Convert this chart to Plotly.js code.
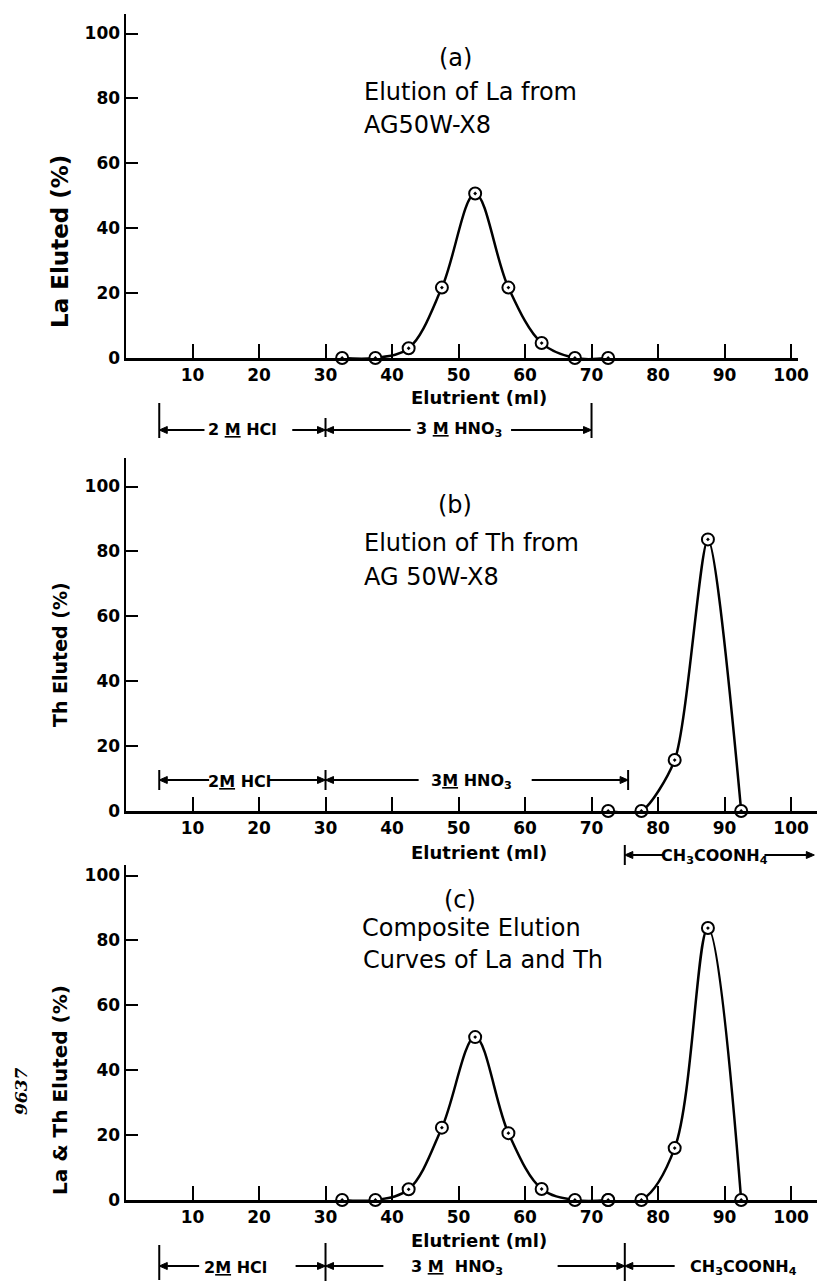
<!DOCTYPE html>
<html><head><meta charset="utf-8">
<script src="https://cdn.plot.ly/plotly-3.0.1.min.js"></script>
<style>html,body{margin:0;padding:0;background:#fff}#chart{width:817px;height:1281px}</style>
</head><body><div id="chart"></div>
<script>
// ---- data ----
const laVolume = [32.5, 37.5, 42.5, 47.5, 52.5, 57.5, 62.5, 67.5, 72.5];
const laElutedA = [0, 0, 3.0, 21.7, 50.7, 21.7, 4.6, 0, 0];
const thVolume = [72.5, 77.5, 82.5, 87.5, 92.5];
const thElutedB = [0, 0, 15.7, 83.7, 0];
const laElutedC = [0, 0, 3.3, 22.3, 50.2, 20.6, 3.4, 0, 0];
const thElutedC = [0, 0, 16.0, 83.8, 0];
const xTicks = [10, 20, 30, 40, 50, 60, 70, 80, 90, 100];
const yTicks = [0, 20, 40, 60, 80, 100];
const eluentsA = ['2 <u>M</u> HCl', '3 <u>M</u> HNO<sub>3</sub>'];
const eluentsB = ['2<u>M</u> HCl', '3<u>M</u> HNO<sub>3</sub>', 'CH<sub>3</sub>COONH<sub>4</sub>'];
const eluentsC = ['2<u>M</u> HCl', '3 <u>M</u>  HNO<sub>3</sub>', 'CH<sub>3</sub>COONH<sub>4</sub>'];
const changeA = [5, 30, 70];
const changeB = [5, 30, 75.5];
const changeC = [5, 30, 75];

// ---- layout helpers ----
const W = 817, H = 1281;
const px = v => v / W, py = v => 1 - v / H;
const FONT = '"DejaVu Sans", "Liberation Sans", sans-serif';
const BLACK = '#000';
const ML_PER_PX = 1 / 6.65;

function curve(x, y, xa, ya, smooth) {
  return {x, y, xaxis: xa, yaxis: ya, type: 'scatter', mode: 'lines+markers',
    line: {color: BLACK, width: 2.5, shape: 'spline', smoothing: smooth},
    marker: {symbol: 'circle-dot', size: 12, color: '#fff', line: {color: BLACK, width: 2}},
    cliponaxis: false, showlegend: false, hoverinfo: 'skip'};
}
function xAxis(right, max, anchor) {
  return {domain: [px(126), right], range: [0, max], anchor,
    tickmode: 'array', tickvals: xTicks, ticktext: xTicks.map(String),
    ticks: 'inside', ticklen: 14, tickwidth: 2, tickcolor: BLACK,
    showline: true, linewidth: 2.5, linecolor: BLACK, showgrid: false, zeroline: false,
    tickfont: {family: FONT, size: 17, color: BLACK, weight: 'bold'}, fixedrange: true};
}
function yAxis(bottomPx, topPx, anchor) {
  const max = (bottomPx - topPx) / 3.245;
  return {domain: [py(bottomPx), py(topPx)], range: [0, max], anchor,
    tickmode: 'array', tickvals: yTicks, ticktext: yTicks.map(String),
    ticks: 'inside', ticklen: 12, tickwidth: 2, tickcolor: BLACK,
    showline: true, linewidth: 2.5, linecolor: BLACK, showgrid: false, zeroline: false,
    tickfont: {family: FONT, size: 17, color: BLACK, weight: 'bold'}, fixedrange: true};
}

const annotations = [];
const shapes = [];
function txt(xPx, yPx, text, size, opts) {
  annotations.push(Object.assign({xref: 'paper', yref: 'paper', x: px(xPx), y: py(yPx), text,
    showarrow: false, xanchor: 'center', yanchor: 'middle',
    font: {family: FONT, size, color: BLACK}}, opts || {}));
}
function boldTxt(xPx, yPx, text, size, angle) {
  txt(xPx, yPx, text, size, {textangle: angle || 0,
    font: {family: FONT, size, color: BLACK, weight: 'bold'}});
}
function bar(xa, x, topPx, botPx) {
  shapes.push({type: 'line', xref: xa, yref: 'paper', x0: x, x1: x, y0: py(topPx), y1: py(botPx),
    line: {color: BLACK, width: 2}});
}
// arrow drawn as a line plus a filled triangular head (head at `head`, tail at `tail`, in ml)
function arrow(xa, yPx, head, tail) {
  const dir = head > tail ? 1 : -1;
  const len = 8 * ML_PER_PX, half = 3.5 / H, y = py(yPx);
  const base = head - dir * len;
  shapes.push({type: 'line', xref: xa, yref: 'paper', x0: tail, x1: base, y0: y, y1: y,
    line: {color: BLACK, width: 2}});
  shapes.push({type: 'path', xref: xa, yref: 'paper',
    path: `M ${head} ${y} L ${base} ${y + half} L ${base} ${y - half} Z`,
    fillcolor: BLACK, line: {color: BLACK, width: 1}});
}
function label(xa, yPx, x, text) {
  annotations.push({xref: xa, yref: 'paper', x, y: py(yPx), text, showarrow: false,
    xanchor: 'center', yanchor: 'middle', font: {family: FONT, size: 16, color: BLACK, weight: 'bold'}});
}

// ---- panel (a) ----
txt(455, 58, '(a)', 24);
txt(362, 92, 'Elution of La from', 24, {xanchor: 'left'});
txt(362, 125, 'AG50W-X8', 24, {xanchor: 'left'});
boldTxt(60, 242, 'La Eluted (%)', 23, -90);
boldTxt(479, 397, 'Elutrient (ml)', 18);
bar('x', changeA[0], 403, 438); bar('x', changeA[1], 418, 437); bar('x', changeA[2], 403, 438);
arrow('x', 430, changeA[0], 11.8); arrow('x', 430, changeA[1], 25);
arrow('x', 430, changeA[1], 42.8); arrow('x', 430, changeA[2], 57.9);
label('x', 430, 17.5, eluentsA[0]); label('x', 430, 50, eluentsA[1]);

// ---- panel (b) ----
txt(455, 505, '(b)', 24);
txt(362, 543, 'Elution of Th from', 24, {xanchor: 'left'});
txt(362, 577, 'AG 50W-X8', 24, {xanchor: 'left'});
boldTxt(60, 655, 'Th Eluted (%)', 19, -90);
boldTxt(479, 852, 'Elutrient (ml)', 18);
bar('x2', changeB[0], 770, 790); bar('x2', changeB[1], 770, 790); bar('x2', changeB[2], 770, 790);
arrow('x2', 780, changeB[0], 12.5); arrow('x2', 780, changeB[1], 21.5);
arrow('x2', 780, changeB[1], 44); arrow('x2', 780, changeB[2], 61);
label('x2', 781, 17, eluentsB[0]); label('x2', 781, 52, eluentsB[1]);
bar('x2', 75, 845, 865);
arrow('x2', 855, 75, 80.8); arrow('x2', 855, 103.5, 96);
label('x2', 856, 88.5, eluentsB[2]);

// ---- panel (c) ----
txt(460, 900, '(c)', 24);
txt(360, 928, 'Composite Elution', 24, {xanchor: 'left'});
txt(361, 960, 'Curves of La and Th', 24, {xanchor: 'left'});
boldTxt(60, 1090, 'La &amp; Th Eluted (%)', 20, -90);
txt(21, 1092, '9637', 17, {textangle: -90, font: {family: '"DejaVu Serif", serif', size: 17, color: BLACK, style: 'italic', weight: 'bold'}});
boldTxt(479, 1240, 'Elutrient (ml)', 18);
bar('x3', changeC[0], 1245, 1280); bar('x3', changeC[1], 1243, 1281); bar('x3', changeC[2], 1243, 1281);
arrow('x3', 1266, changeC[0], 11); arrow('x3', 1266, changeC[1], 25.5);
arrow('x3', 1266, changeC[1], 38.7); arrow('x3', 1266, changeC[2], 64.9);
arrow('x3', 1266, changeC[2], 82.5);
label('x3', 1267, 16.5, eluentsC[0]); label('x3', 1267, 49.7, eluentsC[1]); label('x3', 1267, 92.8, eluentsC[2]);

const data = [
  curve(laVolume, laElutedA, 'x', 'y', 1),
  curve(thVolume, thElutedB, 'x2', 'y2', 0.7),
  curve(laVolume, laElutedC, 'x3', 'y3', 1),
  curve(thVolume, thElutedC, 'x3', 'y3', 1)
];
const layout = {
  width: W, height: H, margin: {l: 0, r: 0, t: 0, b: 0},
  paper_bgcolor: '#fff', plot_bgcolor: '#fff', showlegend: false,
  font: {family: FONT, color: BLACK},
  xaxis: xAxis(797.7 / W, 101, 'y'),
  yaxis: yAxis(358, 14, 'x'),
  xaxis2: xAxis(1, 103.9, 'y2'),
  yaxis2: yAxis(811, 458, 'x2'),
  xaxis3: xAxis(1, 103.9, 'y3'),
  yaxis3: yAxis(1200, 865, 'x3'),
  annotations, shapes
};
Plotly.newPlot('chart', data, layout, {staticPlot: true, displayModeBar: false});
</script></body></html>
